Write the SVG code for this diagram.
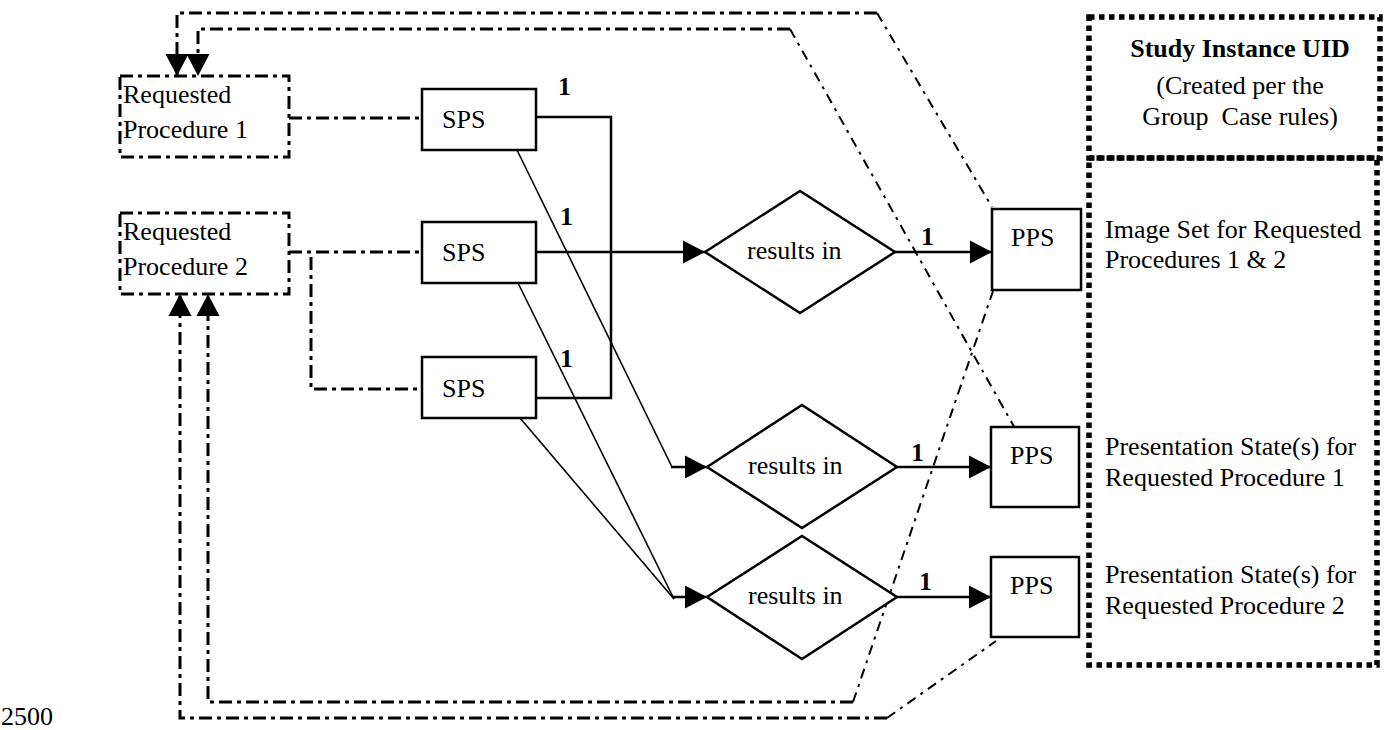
<svg xmlns="http://www.w3.org/2000/svg" width="1389" height="730" viewBox="0 0 1389 730">
  <style>
    text { font-family: "Liberation Serif", "Times New Roman", serif; font-size: 26px; fill: #000; }
    .b { font-weight: bold; }
    .box { fill: #fff; stroke: #000; stroke-width: 2.5; }
    .rp { fill: none; stroke: #000; stroke-width: 3; stroke-dasharray: 13 5 4 5; }
    .dd { fill: none; stroke: #000; stroke-width: 3; stroke-dasharray: 13 5 4 5; }
    .ddt { fill: none; stroke: #000; stroke-width: 2; stroke-dasharray: 10 6 3 6; }
    .ln { fill: none; stroke: #000; stroke-width: 2.5; }
    .thin { fill: none; stroke: #000; stroke-width: 1.6; }
    .dot { fill: none; stroke: #000; stroke-width: 5.5; stroke-dasharray: 5.5 4.5; }
  </style>
  <defs>
    <marker id="ah" markerUnits="userSpaceOnUse" markerWidth="22" markerHeight="24" refX="22" refY="12" orient="auto">
      <path d="M0,0.5 L22,12 L0,23.5 Z" fill="#000"/>
    </marker>
  </defs>

  <rect width="1389" height="730" fill="#fff"/>

  <!-- connectors -->
  <g id="connectors">
    <!-- feedback lines from the PPS boxes back to the requested procedures -->
    <path class="dd" d="M877,13 H177 V76" marker-end="url(#ah)"/>
    <path class="ddt" d="M877,13 L992,207"/>
    <path class="dd" d="M790,29 H198 V76" marker-end="url(#ah)"/>
    <path class="ddt" d="M790,29 L1017,432"/>
    <path class="dd" d="M887,718 H180 V294" marker-end="url(#ah)"/>
    <path class="ddt" d="M887,718 L996,641"/>
    <path class="dd" d="M853,702 H208 V294" marker-end="url(#ah)"/>
    <path class="ddt" d="M853,702 L993,291"/>

    <!-- requested procedure to SPS -->
    <path class="dd" d="M289,118 H422"/>
    <path class="dd" d="M289,252 H422"/>
    <path class="dd" d="M311,257 V389 H422"/>

    <!-- SPS to results-in -->
    <path class="ln" d="M536,117 H611 V398 H536"/>
    <path class="ln" d="M536,252 H705" marker-end="url(#ah)"/>
    <path class="thin" d="M517,150 L672,467"/>
    <path class="ln" d="M671,467 H707" marker-end="url(#ah)"/>
    <path class="thin" d="M518,283 L674,599"/>
    <path class="thin" d="M520,418 L674,599"/>
    <path class="ln" d="M673,597 H707" marker-end="url(#ah)"/>

    <!-- results-in to PPS -->
    <path class="ln" d="M895,252 H992" marker-end="url(#ah)"/>
    <path class="ln" d="M897,467 H991" marker-end="url(#ah)"/>
    <path class="ln" d="M897,597 H991" marker-end="url(#ah)"/>

    <!-- cardinality labels -->
    <text class="b" x="558" y="95">1</text>
    <text class="b" x="560" y="225">1</text>
    <text class="b" x="560" y="367">1</text>
    <text class="b" x="921" y="245">1</text>
    <text class="b" x="911" y="461">1</text>
    <text class="b" x="919" y="590">1</text>
  </g>

  <g id="rp1">
    <rect class="rp" x="120" y="76" width="169" height="81"/>
    <text x="123" y="103">Requested</text>
    <text x="123" y="138">Procedure 1</text>
  </g>
  <g id="rp2">
    <rect class="rp" x="120" y="213" width="169" height="81"/>
    <text x="123" y="240">Requested</text>
    <text x="123" y="275">Procedure 2</text>
  </g>

  <g id="sps1">
    <rect class="box" x="422" y="89" width="114" height="61"/>
    <text x="442" y="128">SPS</text>
  </g>
  <g id="sps2">
    <rect class="box" x="422" y="222" width="114" height="61"/>
    <text x="442" y="261">SPS</text>
  </g>
  <g id="sps3">
    <rect class="box" x="422" y="357" width="114" height="61"/>
    <text x="442" y="397">SPS</text>
  </g>

  <g id="results1">
    <polygon class="box" points="705,252 800,191 895,252 800,313"/>
    <text x="747" y="259">results in</text>
  </g>
  <g id="results2">
    <polygon class="box" points="707,467 802,405 897,467 802,528"/>
    <text x="748" y="474">results in</text>
  </g>
  <g id="results3">
    <polygon class="box" points="707,597 802,536 897,597 802,659"/>
    <text x="748" y="604">results in</text>
  </g>

  <g id="pps1">
    <rect class="box" x="992" y="209" width="89" height="81"/>
    <text x="1011" y="246">PPS</text>
  </g>
  <g id="pps2">
    <rect class="box" x="991" y="427" width="88" height="80"/>
    <text x="1010" y="464">PPS</text>
  </g>
  <g id="pps3">
    <rect class="box" x="991" y="557" width="88" height="80"/>
    <text x="1010" y="594">PPS</text>
  </g>

  <g id="study-uid">
    <rect class="dot" x="1089" y="17" width="291" height="141"/>
    <text class="b" x="1240" y="57" text-anchor="middle">Study Instance UID</text>
    <text x="1240" y="94" text-anchor="middle">(Created per the</text>
    <text x="1240" y="125" text-anchor="middle" xml:space="preserve">Group  Case rules)</text>
  </g>

  <g id="image-set">
    <rect class="dot" x="1089" y="158" width="288" height="507"/>
    <text x="1105" y="238">Image Set for Requested</text>
    <text x="1105" y="268">Procedures 1 &amp; 2</text>
    <text x="1105" y="455">Presentation State(s) for</text>
    <text x="1105" y="486">Requested Procedure 1</text>
    <text x="1105" y="583">Presentation State(s) for</text>
    <text x="1105" y="614">Requested Procedure 2</text>
  </g>

  <text x="1" y="725">2500</text>
</svg>
